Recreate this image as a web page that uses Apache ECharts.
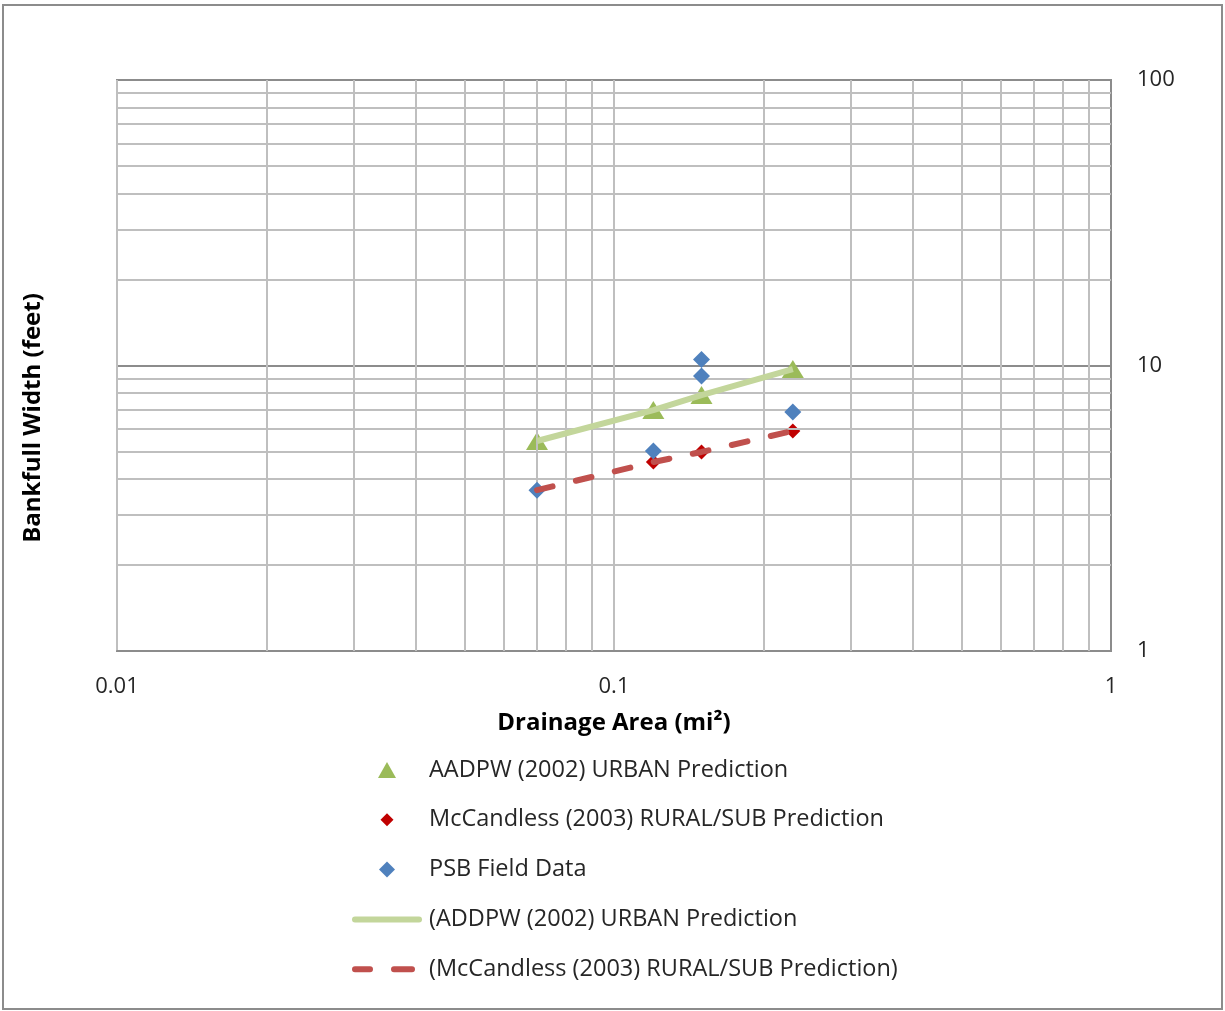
<!DOCTYPE html>
<html>
<head>
<meta charset="utf-8">
<script src="https://cdn.jsdelivr.net/npm/echarts@6/dist/echarts.min.js"></script>
<style>
  html, body { margin: 0; padding: 0; background: #fff; }
  #main { width: 1225px; height: 1011px; }
</style>
</head>
<body>
<div id="main"></div>
<script>
// drainage area (mi2) for each site
var areas = [0.07, 0.12, 0.15, 0.229];
// bankfull widths (feet)
var aadpwUrban = [5.44, 6.98, 7.88, 9.72];
var mccandlessRural = [3.66, 4.59, 4.98, 5.9];
var psbAreas = [0.07, 0.12, 0.15, 0.15, 0.229];
var psbField = [3.66, 5.02, 9.19, 10.5, 6.87];

// minor grid lines (log decades)
var xMinor = [0.02, 0.03, 0.04, 0.05, 0.06, 0.07, 0.08, 0.09, 0.2, 0.3, 0.4, 0.5, 0.6, 0.7, 0.8, 0.9];
var yMinor = [2, 3, 4, 5, 6, 7, 8, 9, 20, 30, 40, 50, 60, 70, 80, 90];

var FONT = 'Open Sans';

function pairs(xs, ys) {
  return xs.map(function (x, i) { return [x, ys[i]]; });
}

var minorLines = xMinor.map(function (v) { return { xAxis: v }; })
  .concat(yMinor.map(function (v) { return { yAxis: v }; }));

// legend icons (kept to aspect inside a 70 x 16 box)
var iconTriangle = 'path://M9,0 L18,16 L0,16 Z';
var iconDiamondSmall = 'path://M0,0 M16,16 M8,1.5 L14.5,8 L8,14.5 L1.5,8 Z';
var iconDiamond = 'path://M8,0 L16,8 L8,16 L0,8 Z';
var iconSolid = 'path://M3,0 H67 A3,3 0 0 1 67,6 H3 A3,3 0 0 1 3,0 Z';
var iconDashed = 'path://M0,0 M70,16 M3,5 H18 A3,3 0 0 1 18,11 H3 A3,3 0 0 1 3,5 Z M42,5 H60 A3,3 0 0 1 60,11 H42 A3,3 0 0 1 42,5 Z';

var chart = echarts.init(document.getElementById('main'), null, { renderer: 'canvas' });

var option = {
  animation: false,
  backgroundColor: '#fff',
  graphic: [
    {
      type: 'rect',
      shape: { x: 3, y: 5, width: 1219, height: 1004 },
      style: { fill: 'none', stroke: '#8c8c8c', lineWidth: 2 },
      silent: true
    },
    {
      type: 'text',
      x: 33, y: 418,
      rotation: Math.PI / 2,
      style: {
        text: 'Bankfull Width (feet)',
        font: 'bold 24px "' + FONT + '"',
        fill: '#000',
        align: 'center',
        verticalAlign: 'middle'
      }
    }
  ],
  grid: {
    left: 117, right: 114, top: 80, bottom: 360,
    show: true, borderColor: '#8c8c8c', borderWidth: 2
  },
  xAxis: {
    type: 'log', logBase: 10, min: 0.01, max: 1,
    name: 'Drainage Area (mi²)',
    nameLocation: 'middle',
    nameGap: 60,
    nameTextStyle: { fontFamily: FONT, fontWeight: 'bold', fontSize: 24, color: '#000' },
    axisLine: { show: true, lineStyle: { color: '#8c8c8c', width: 2 } },
    axisTick: { show: false },
    axisLabel: { fontFamily: FONT, fontSize: 22, color: '#262626', margin: 25 },
    splitLine: { show: true, lineStyle: { color: '#bfbfbf', width: 2 } }
  },
  yAxis: {
    type: 'log', logBase: 10, min: 1, max: 100,
    position: 'right',
    axisLine: { show: true, lineStyle: { color: '#8c8c8c', width: 2 } },
    axisTick: { show: false },
    axisLabel: { fontFamily: FONT, fontSize: 22, color: '#262626', margin: 26 },
    splitLine: { show: true, lineStyle: { color: '#8c8c8c', width: 2 } }
  },
  legend: {
    orient: 'vertical',
    left: 352, top: 758,
    padding: 0,
    itemWidth: 70, itemHeight: 16,
    itemGap: 25.8,
    symbolKeepAspect: true,
    textStyle: { fontFamily: FONT, fontSize: 23.5, lineHeight: 22, color: '#262626', padding: [0, 0, 0, 2] },
    data: [
      { name: 'AADPW (2002) URBAN Prediction', icon: iconTriangle },
      { name: 'McCandless (2003) RURAL/SUB Prediction', icon: iconDiamondSmall },
      { name: 'PSB Field Data', icon: iconDiamond },
      { name: '(ADDPW (2002) URBAN Prediction', icon: iconSolid },
      { name: '(McCandless (2003) RURAL/SUB Prediction)', icon: iconDashed }
    ]
  },
  series: [
    {
      name: 'gridMinor',
      type: 'line',
      data: [],
      z: 1,
      silent: true,
      markLine: {
        silent: true,
        symbol: ['none', 'none'],
        label: { show: false },
        animation: false,
        lineStyle: { color: '#bfbfbf', width: 2, type: 'solid' },
        data: minorLines
      }
    },
    {
      name: 'AADPW (2002) URBAN Prediction',
      type: 'scatter',
      data: pairs(areas, aadpwUrban),
      symbol: 'triangle',
      symbolSize: [22, 18],
      z: 3,
      itemStyle: { color: '#9bbb59', opacity: 1 }
    },
    {
      name: 'McCandless (2003) RURAL/SUB Prediction',
      type: 'scatter',
      data: pairs(areas, mccandlessRural),
      symbol: 'diamond',
      symbolSize: 15,
      z: 4,
      itemStyle: { color: '#c00000', opacity: 1 }
    },
    {
      name: 'PSB Field Data',
      type: 'scatter',
      data: pairs(psbAreas, psbField),
      symbol: 'diamond',
      symbolSize: 17,
      z: 5,
      itemStyle: { color: '#4f81bd', opacity: 1 }
    },
    {
      name: '(ADDPW (2002) URBAN Prediction',
      type: 'line',
      data: pairs(areas, aadpwUrban),
      symbol: 'none',
      z: 6,
      lineStyle: { color: '#c3d69b', width: 6 },
      itemStyle: { color: '#c3d69b' }
    },
    {
      name: '(McCandless (2003) RURAL/SUB Prediction)',
      type: 'line',
      data: pairs(areas, mccandlessRural),
      symbol: 'none',
      z: 7,
      lineStyle: { color: '#c0504d', width: 6, type: [16, 24], cap: 'round' },
      itemStyle: { color: '#c0504d' }
    }
  ]
};

chart.setOption(option);
</script>
</body>
</html>
